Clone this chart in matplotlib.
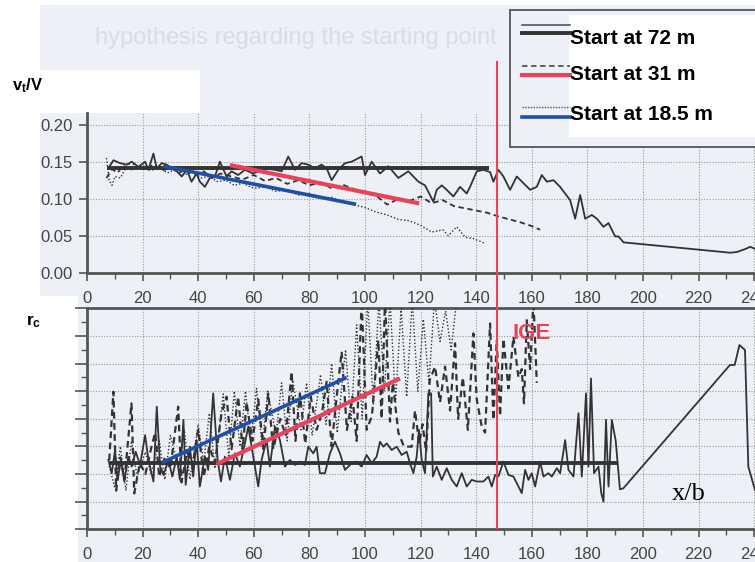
import matplotlib
matplotlib.use("Agg")
import matplotlib.pyplot as plt
from matplotlib.patches import Polygon, Rectangle
from matplotlib.lines import Line2D
from matplotlib.ticker import MultipleLocator
from matplotlib.transforms import blended_transform_factory

plt.rcParams['font.family'] = ['Liberation Sans', 'DejaVu Sans']
plt.rcParams['mathtext.fontset'] = 'custom'
plt.rcParams['mathtext.rm'] = 'Liberation Sans'
plt.rcParams['mathtext.bf'] = 'Liberation Sans:bold'

W, H = 755, 562

# ---- upper panel: tangential speed v_t/V against x/b ----
x_t72 = [7.7, 9.5, 11.9, 14.3, 16.1, 18.5, 20.9, 22.1, 23.9, 25.1, 26.9, 28.7, 30.5, 32.3,
         34.1, 35.9, 37.6, 39.4, 40.6, 42.4, 44.2, 46.0, 47.8, 50.2, 52.0, 54.4, 56.8, 59.8,
         62.8, 64.0, 67.6, 70.0, 72.4, 74.8, 77.2, 79.6, 82.0, 84.4, 86.2, 88.0, 90.4, 92.8,
         95.2, 98.8, 100.0, 102.4, 105.4, 108.4, 112.0, 115.6, 119.2, 121.6, 124.6, 125.8,
         127.6, 129.4, 131.8, 134.2, 136.6, 137.8, 140.2, 142.6, 145.0, 146.2, 148.0, 149.8,
         152.2, 154.6, 157.0, 159.4, 161.8, 163.6, 165.4, 167.8, 170.2, 172.0, 173.8, 175.6,
         177.4, 179.2, 181.6, 183.4, 185.8, 187.6, 190.0, 191.2, 193.0, 231.4, 233.8, 236.8,
         238.6, 240.4]
v_t72 = [0.141, 0.152, 0.148, 0.146, 0.150, 0.143, 0.150, 0.139, 0.161, 0.141, 0.148, 0.146,
         0.141, 0.137, 0.130, 0.139, 0.123, 0.134, 0.123, 0.116, 0.128, 0.130, 0.150, 0.130,
         0.137, 0.132, 0.139, 0.134, 0.139, 0.141, 0.139, 0.137, 0.157, 0.139, 0.148, 0.146,
         0.141, 0.146, 0.141, 0.125, 0.139, 0.148, 0.150, 0.157, 0.132, 0.150, 0.134, 0.144,
         0.128, 0.137, 0.123, 0.118, 0.096, 0.112, 0.118, 0.112, 0.103, 0.116, 0.107, 0.116,
         0.137, 0.139, 0.136, 0.123, 0.139, 0.130, 0.112, 0.130, 0.121, 0.112, 0.116, 0.132,
         0.123, 0.125, 0.116, 0.107, 0.098, 0.073, 0.105, 0.073, 0.078, 0.073, 0.062, 0.067,
         0.049, 0.049, 0.041, 0.027, 0.028, 0.032, 0.035, 0.032]

x_t31 = [7, 9, 11, 13, 15, 18, 21, 24, 27, 30, 33, 36, 39, 42, 45, 48, 52, 56, 60, 64, 68,
         72, 76, 80, 84, 88, 92, 96, 100, 104, 108, 112, 116, 120, 124, 128, 132, 136, 140,
         144, 148, 152, 156, 160, 163]
v_t31 = [0.128, 0.140, 0.135, 0.145, 0.138, 0.143, 0.140, 0.146, 0.138, 0.142, 0.135, 0.140,
         0.132, 0.137, 0.128, 0.134, 0.130, 0.126, 0.132, 0.124, 0.128, 0.120, 0.125, 0.118,
         0.122, 0.114, 0.119, 0.113, 0.108, 0.104, 0.092, 0.100, 0.097, 0.103, 0.094, 0.098,
         0.090, 0.087, 0.084, 0.081, 0.076, 0.072, 0.068, 0.063, 0.058]

x_t18 = [7, 8, 9, 10, 12, 14, 16, 18, 20, 23, 26, 29, 32, 35, 38, 41, 44, 47, 50, 53, 56,
         60, 64, 68, 72, 76, 80, 84, 88, 92, 96, 100, 104, 108, 112, 116, 120, 124, 128,
         130, 133, 136, 139, 143]
v_t18 = [0.155, 0.125, 0.118, 0.130, 0.128, 0.142, 0.150, 0.140, 0.145, 0.138, 0.142, 0.135,
         0.140, 0.132, 0.136, 0.128, 0.130, 0.123, 0.125, 0.118, 0.121, 0.114, 0.116, 0.110,
         0.112, 0.105, 0.107, 0.100, 0.102, 0.095, 0.092, 0.088, 0.082, 0.078, 0.072, 0.070,
         0.064, 0.055, 0.058, 0.050, 0.062, 0.048, 0.046, 0.040]

# trend lines of the upper panel (x_start, x_end), (y_start, y_end)
trend_t72 = ([7.2, 144.6], [0.142, 0.142])
trend_t31 = ([51.4, 119.5], [0.1455, 0.0937])
trend_t18 = ([27.4, 96.8], [0.144, 0.0924])

# ---- lower panel: core radius r_c against x/b ----
x_l72 = [7.7, 8.9, 10.1, 11.0, 12.2, 13.4, 14.9, 16.1, 17.5, 19.1, 20.9, 22.1, 23.9, 25.1,
         26.3, 27.5, 29.3, 30.7, 32.3, 33.4, 34.7, 35.5, 37.0, 38.2, 39.4, 40.6, 42.4, 43.6,
         45.4, 47.0, 48.2, 49.6, 51.4, 53.2, 55.0, 56.8, 58.0, 59.8, 61.6, 62.8, 64.6, 65.8,
         67.6, 69.4, 71.2, 73.0, 74.8, 76.6, 78.4, 79.6, 81.4, 82.6, 83.8, 85.6, 87.4, 89.2,
         91.0, 92.8, 95.2, 97.0, 98.8, 100.6, 102.4, 104.2, 105.4, 106.6, 107.8, 109.6, 111.4,
         113.2, 115.0, 116.2, 117.4, 118.6, 119.4, 120.4, 121.6, 122.8, 123.8, 124.4, 125.8,
         127.6, 129.4, 131.2, 133.0, 134.8, 136.6, 138.4, 140.2, 142.6, 144.4, 145.6, 146.8,
         148.0, 149.8, 151.6, 153.4, 154.6, 156.4, 157.6, 158.8, 160.0, 161.2, 163.0, 164.2,
         166.0, 167.2, 169.0, 170.2, 172.0, 173.2, 175.0, 176.8, 178.0, 179.5, 180.4, 181.3,
         182.4, 184.0, 185.0, 185.8, 186.7, 187.6, 188.8, 190.2, 191.7, 192.9, 231.3, 233.0,
         234.7, 236.7, 237.9, 240.3]
r_l72 = [2.51, 2.03, 2.87, 1.79, 2.51, 1.73, 2.63, 2.27, 2.81, 2.33, 3.41, 2.51, 1.73, 4.44,
         2.27, 1.97, 2.51, 1.91, 2.63, 1.79, 3.96, 1.61, 2.99, 1.91, 3.23, 1.55, 2.63, 2.15,
         4.92, 2.51, 1.73, 2.63, 1.79, 2.75, 2.27, 3.11, 3.72, 2.63, 1.55, 2.51, 3.23, 2.27,
         3.72, 3.23, 2.27, 2.51, 2.33, 2.45, 2.33, 2.99, 2.75, 2.99, 2.03, 2.03, 2.75, 3.17,
         2.75, 2.15, 2.39, 2.45, 2.27, 2.69, 2.39, 2.63, 3.17, 2.99, 3.11, 2.87, 2.99,
         2.69, 2.81, 2.39, 2.03, 2.63, 3.60, 2.51, 2.03, 4.92, 4.92, 1.91, 2.27,
         1.79, 2.21, 1.79, 1.55, 2.03, 1.55, 1.79, 1.73, 1.73, 1.91, 1.55, 1.97,
         1.91, 2.45, 1.97, 1.91, 1.67, 1.31, 2.15, 1.79, 2.03, 1.55, 2.45, 1.91,
         2.03, 1.91, 2.21, 2.03, 3.23, 2.15, 1.91, 4.20, 1.91, 4.92, 2.27, 5.46,
         2.03, 2.27, 1.31, 1.00, 3.96, 1.55, 3.96, 3.20, 1.45, 1.48, 5.95, 5.95,
         6.67, 6.49, 2.27, 1.42]

x_l31 = [8, 9.5, 10.5, 12, 13.5, 16, 17, 19, 21, 23, 24.5, 26, 28, 30, 32.8, 34, 36, 38, 40,
         42, 44, 46, 48.4, 50.2, 52, 54.4, 56, 57.4, 59.5, 61.6, 63.5, 65.2, 67, 69.5, 71.5,
         73.6, 75, 76.6, 78.5, 80.5, 82.6, 84.5, 86.2, 88, 89.6, 91.6, 93.5, 95.5, 97, 98.8,
         100.6, 102.5, 104.8, 106, 107.2, 109, 110, 112, 114, 116.8, 118, 119.5, 120.7, 122,
         123.3, 125.2, 127, 128.8, 130.6, 132.4, 133.5, 135.2, 137, 139, 140.2, 142, 143.2,
         145, 146.2, 147.4, 148.6, 149.8, 151.6, 153.4, 155.2, 156.4, 157.2, 158.2, 159.4,
         160.6, 161.8]
r_l31 = [2.5, 4.98, 1.4, 2.6, 1.8, 4.56, 1.3, 2.4, 2.0, 2.9, 3.5, 1.9, 2.6, 2.2, 4.44, 1.7,
         2.8, 2.3, 3.6, 1.9, 3.0, 2.4, 4.2, 4.8, 2.9, 4.8, 2.9, 4.6, 3.2, 4.7, 2.9, 4.92, 2.9,
         4.0, 3.4, 5.71, 3.2, 4.92, 3.1, 4.8, 3.6, 4.2, 5.34, 3.0, 4.6, 6.43, 3.6, 4.8, 3.2,
         8.3, 3.6, 4.1, 6.85, 4.0, 8.3, 3.9, 5.3, 3.5, 3.0, 2.99, 4.3, 3.1, 3.8, 2.8, 5.4,
         5.89, 4.6, 5.89, 4.3, 6.73, 4.0, 5.5, 3.6, 7.09, 4.7, 3.72, 3.5, 7.45, 3.96, 6.85,
         4.1, 6.9, 5.1, 6.97, 5.5, 5.8, 4.56, 7.57, 5.8, 8.3, 5.3]

x_l18 = [8, 10, 12, 14, 16, 18, 21, 23, 26, 28, 30, 33, 35, 37, 40, 42, 44, 46, 49, 51, 53,
         55, 57, 59, 61, 63, 65, 68, 70, 72, 74, 77, 79, 81, 84, 86, 88, 90, 93, 95, 97, 99,
         101, 103, 105, 107, 109, 111, 113, 115, 117, 119, 121, 123, 125, 127, 129, 131, 133]
r_l18 = [2.3, 1.5, 3.0, 1.4, 3.2, 1.9, 2.8, 2.0, 3.2, 1.8, 3.4, 2.2, 3.6, 1.8, 3.8, 2.4, 4.2,
         2.2, 4.9, 2.6, 5.0, 3.0, 5.0, 3.2, 5.1, 3.0, 5.0, 3.4, 5.3, 3.2, 5.4, 3.6, 5.3, 3.4,
         5.6, 3.8, 6.0, 3.5, 6.5, 3.9, 7.4, 4.0, 8.3, 4.5, 8.3, 5.0, 8.3, 4.6, 8.0, 4.8, 8.3,
         5.0, 7.6, 5.3, 8.3, 6.8, 7.9, 6.5, 8.3]

trend_l72 = ([8.3, 190.5], [2.39, 2.39])
trend_l31 = ([46.6, 112.6], [2.36, 5.46])
trend_l18 = ([26.9, 93.4], [2.41, 5.50])

x_ige = 147.5
labels = ["Start at 72 m", "Start at 31 m", "Start at 18.5 m"]

INK = '#333333'
RED = '#e8435a'
BLUE = '#1f4fa6'
SCAN = '#eef0f8'


def px(x, y):
    # pixel position (from top-left) to figure fraction
    return x / W, 1 - y / H


fig = plt.figure(figsize=(W / 100, H / 100), dpi=100, facecolor='white')

# scanned page background with a faded heading showing through
page = Polygon([px(40, 5), px(755, 5), px(755, 562), px(78, 562), px(78, 296), px(40, 296)],
               closed=True, transform=fig.transFigure, facecolor=SCAN, edgecolor='none',
               zorder=-3)
fig.patches.append(page)
fig.patches.append(Rectangle(px(0, 113), 200 / W, 43 / H, transform=fig.transFigure,
                             facecolor='white', edgecolor='none', zorder=-2))
fig.text(*px(497, 38), "hypothesis regarding the starting point", ha='right', va='center',
         fontsize=17, color='#d9dce8', zorder=-1)

ax1 = fig.add_axes([87 / W, 1 - 272.7 / H, 668 / W, (272.7 - 113) / H])
ax2 = fig.add_axes([87 / W, 1 - 529.3 / H, 668 / W, (529.3 - 308.3) / H])

for ax in (ax1, ax2):
    ax.set_facecolor('none')
    ax.set_xlim(0, 240.3)
    ax.xaxis.set_major_locator(MultipleLocator(20))
    ax.xaxis.set_minor_locator(MultipleLocator(10))
    ax.grid(True, which='major', linestyle=(0, (1, 1.5)), color='#9a9a9a', linewidth=0.8)
    ax.tick_params(axis='both', which='major', direction='out', length=6, width=1.2,
                   color='#555555', labelsize=12, labelcolor='#444444', pad=4)
    ax.tick_params(axis='both', which='minor', direction='out', length=4, width=1.0,
                   color='#555555')
    ax.spines['right'].set_visible(False)
    for side in ('left', 'bottom', 'top'):
        ax.spines[side].set_color('#555555')
        ax.spines[side].set_linewidth(2.0)
    ax.set_axisbelow(True)

ax1.spines['top'].set_visible(False)
ax1.set_ylim(0, 0.2158)
ax1.yaxis.set_major_locator(MultipleLocator(0.05))
ax1.yaxis.set_major_formatter(matplotlib.ticker.FormatStrFormatter('%.2f'))
ax1.tick_params(axis='x', pad=7)

ax2.set_ylim(0, 8)
ax2.yaxis.set_major_locator(MultipleLocator(1))
ax2.yaxis.set_minor_locator(MultipleLocator(0.5))
ax2.tick_params(axis='y', which='both', labelleft=False)
ax2.tick_params(axis='y', which='major', length=9)
ax2.tick_params(axis='x', pad=7)

# measured series
ax1.plot(x_t72, v_t72, color=INK, lw=1.3, zorder=3)
ax1.plot(x_t31, v_t31, color=INK, lw=1.3, linestyle=(0, (3, 2)), zorder=3)
ax1.plot(x_t18, v_t18, color=INK, lw=1.0, linestyle=(0, (1, 1.5)), zorder=3)
ax1.plot(*trend_t72, color=INK, lw=2.8, solid_capstyle='butt', zorder=4)
ax1.plot(*trend_t31, color=RED, lw=3.0, solid_capstyle='butt', zorder=5)
ax1.plot(*trend_t18, color=BLUE, lw=2.6, solid_capstyle='butt', zorder=5)

ax2.plot(x_l72, r_l72, color=INK, lw=1.3, zorder=3)
ax2.plot(x_l31, r_l31, color=INK, lw=1.6, linestyle=(0, (3, 2)), zorder=3)
ax2.plot(x_l18, r_l18, color=INK, lw=1.0, linestyle=(0, (1, 1.5)), zorder=3)
ax2.plot(*trend_l72, color=INK, lw=2.8, solid_capstyle='butt', zorder=4)
ax2.plot(*trend_l31, color=RED, lw=3.0, solid_capstyle='butt', zorder=5)
ax2.plot(*trend_l18, color=BLUE, lw=2.6, solid_capstyle='butt', zorder=5)

# in-ground-effect boundary, running through both panels
tr = blended_transform_factory(ax2.transData, fig.transFigure)
ax2.plot([x_ige, x_ige], [1 - 528 / H, 1 - 62 / H], color=RED, lw=1.5, transform=tr,
         clip_on=False, zorder=6)
ax2.text(x_ige + 5.7, 7.1, "IGE", color=RED, fontsize=16, fontweight='bold',
         ha='left', va='center', zorder=6)
ax2.text(210.4, 1.06, "x/b", family=['Liberation Serif', 'DejaVu Serif'], fontsize=19,
         color='black', ha='left', va='baseline', zorder=6)

# axis titles
fig.text(*px(12, 86), r'$\mathbf{v_t/V}$', fontsize=12, ha='left', va='center')
fig.text(*px(26, 322), r'$\mathbf{r_c}$', fontsize=12.5, ha='left', va='center')

# legend panel
fig.patches.append(Rectangle(px(510, 147), 260 / W, 137 / H, transform=fig.transFigure,
                             facecolor=SCAN, edgecolor='#555555', linewidth=1.3, zorder=7))
fig.patches.append(Rectangle(px(569, 137), 190 / W, 122 / H, transform=fig.transFigure,
                             facecolor='white', edgecolor='none', zorder=7.5))
samples = [
    ((25, dict(color='#555555', lw=1.2)), (33, dict(color=INK, lw=2.8))),
    ((66, dict(color='#555555', lw=1.3, linestyle=(0, (3, 2)))), (75, dict(color=RED, lw=3.0))),
    ((107, dict(color='#555555', lw=1.0, linestyle=(0, (1, 1)))), (117, dict(color=BLUE, lw=2.6))),
]
text_y = [38, 75, 115]
for (upper, lower), ty, label in zip(samples, text_y, labels):
    for yy, style in (upper, lower):
        x0, y0 = px(522, yy)
        x1, _ = px(570, yy)
        fig.lines.append(Line2D([x0, x1], [y0, y0], transform=fig.transFigure, zorder=8, **style))
    fig.text(*px(570, ty), label, fontsize=15, fontweight='bold', ha='left', va='center',
             zorder=9)

fig.savefig('out.png', dpi=100, facecolor='white')
